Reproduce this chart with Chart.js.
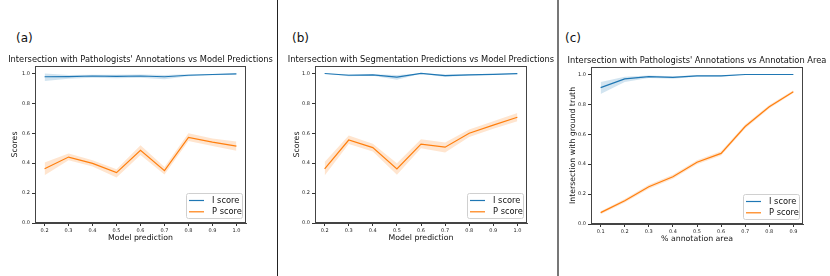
<!DOCTYPE html>
<html>
<head>
<meta charset="utf-8">
<script src="https://cdn.jsdelivr.net/npm/chart.js@4"></script>
<style>
    body { margin: 0; background: #fff; width: 830px; height: 276px; position: relative; overflow: hidden; font-family: "DejaVu Sans", sans-serif; }
    canvas, .tag, .sep { position: absolute; }
    .tag { font-size: 12px; color: #111; }
    .sep { top: 0; height: 276px; }
</style>
</head>
<body>
<div class="tag" style="left:16px;top:31px">(a)</div>
<div class="tag" style="left:292px;top:31px">(b)</div>
<div class="tag" style="left:565px;top:31px">(c)</div>
<div class="sep" style="left:277px;width:1px;background:#222"></div>
<div class="sep" style="left:557px;width:2px;background:#777"></div>
<canvas id="chartA" style="left:0px;top:53px" width="276" height="191"></canvas>
<canvas id="chartB" style="left:280px;top:53px" width="278" height="191"></canvas>
<canvas id="chartC" style="left:556px;top:54px" width="274" height="191"></canvas>
<script>
// x values
const modelPred = [0.2, 0.3, 0.4, 0.5, 0.6, 0.7, 0.8, 0.9, 1.0];
const annotArea = [0.1, 0.2, 0.3, 0.4, 0.5, 0.6, 0.7, 0.8, 0.9];
const yTicks = [0, 0.2, 0.4, 0.6, 0.8, 1.0];

// (a) pathologists' annotations vs model predictions
const aI   = [0.978, 0.979, 0.983, 0.981, 0.983, 0.978, 0.988, 0.993, 0.997];
const aILo = [0.950, 0.965, 0.972, 0.968, 0.972, 0.962, 0.982, 0.988, 0.993];
const aIHi = [1.000, 0.990, 0.992, 0.992, 0.993, 0.990, 0.994, 0.997, 1.000];
const aP   = [0.363, 0.441, 0.399, 0.337, 0.486, 0.350, 0.573, 0.541, 0.514];
const aPLo = [0.320, 0.420, 0.378, 0.305, 0.455, 0.325, 0.548, 0.515, 0.484];
const aPHi = [0.405, 0.465, 0.420, 0.360, 0.520, 0.375, 0.600, 0.565, 0.545];

// (b) segmentation predictions vs model predictions
const bI   = [1.000, 0.988, 0.990, 0.975, 1.000, 0.985, 0.990, 0.994, 0.999];
const bILo = [0.998, 0.982, 0.985, 0.958, 0.998, 0.976, 0.986, 0.991, 0.998];
const bIHi = [1.000, 0.994, 0.995, 0.990, 1.000, 0.993, 0.994, 0.997, 1.000];
const bP   = [0.362, 0.555, 0.504, 0.362, 0.527, 0.507, 0.600, 0.655, 0.707];
const bPLo = [0.318, 0.528, 0.478, 0.322, 0.500, 0.472, 0.575, 0.630, 0.680];
const bPHi = [0.408, 0.585, 0.530, 0.400, 0.560, 0.538, 0.625, 0.680, 0.735];

// (c) pathologists' annotations vs annotation area
const cI   = [0.912, 0.970, 0.985, 0.980, 0.990, 0.990, 1.000, 1.000, 1.000];
const cILo = [0.870, 0.950, 0.976, 0.972, 0.985, 0.984, 1.000, 1.000, 1.000];
const cIHi = [0.950, 0.985, 0.993, 0.988, 0.995, 0.995, 1.000, 1.000, 1.000];
const cP   = [0.076, 0.156, 0.249, 0.316, 0.413, 0.472, 0.652, 0.784, 0.885];
const cPLo = [0.066, 0.144, 0.236, 0.303, 0.400, 0.458, 0.638, 0.772, 0.876];
const cPHi = [0.086, 0.168, 0.262, 0.329, 0.426, 0.486, 0.666, 0.796, 0.894];

const BLUE = "#1f77b4";
const ORANGE = "#ff7f0e";
const FONT = "DejaVu Sans";

Chart.defaults.font.family = FONT;
Chart.defaults.color = "#222";

const pts = (xs, ys) => xs.map((x, i) => ({ x: x, y: ys[i] }));

// box round the plot area + title centred over it
const framePlugin = {
    id: "frame",
    afterDraw(chart) {
        const a = chart.chartArea, ctx = chart.ctx;
        ctx.save();
        ctx.strokeStyle = "#444";
        ctx.lineWidth = 1;
        ctx.strokeRect(a.left + 0.5, a.top + 0.5, a.right - a.left - 1, a.bottom - a.top - 1);
        ctx.fillStyle = "#111";
        ctx.font = "8.3px " + FONT;
        ctx.textAlign = "center";
        ctx.textBaseline = "middle";
        ctx.fillText(chart.options.plugins.frame.title, (a.left + a.right) / 2, a.top - 6.5);
        ctx.restore();
    }
};

// matplotlib-like legend, lower right
const legendPlugin = {
    id: "boxLegend",
    afterDraw(chart) {
        const a = chart.chartArea, ctx = chart.ctx;
        const items = chart.data.datasets.filter(d => !d.band);
        const w = 56, h = 25;
        const x = a.right - 4 - w, y = a.bottom - 5 - h;
        ctx.save();
        ctx.fillStyle = "rgba(255,255,255,0.85)";
        ctx.strokeStyle = "#d0d0d0";
        ctx.lineWidth = 1;
        ctx.beginPath();
        ctx.roundRect(x + 0.5, y + 0.5, w, h, 2);
        ctx.fill();
        ctx.stroke();
        ctx.font = "8.3px " + FONT;
        ctx.textBaseline = "middle";
        items.forEach((d, i) => {
            const ry = y + 7.5 + i * 11.3;
            ctx.strokeStyle = d.borderColor;
            ctx.lineWidth = 1.2;
            ctx.beginPath();
            ctx.moveTo(x + 3, ry);
            ctx.lineTo(x + 18, ry);
            ctx.stroke();
            ctx.fillStyle = "#111";
            ctx.fillText(d.label, x + 26, ry);
        });
        ctx.restore();
    }
};

function makePanel(id, p) {
    const band = (lo, hi, color) => [
        { band: true, data: pts(p.xs, lo), borderColor: "transparent", pointRadius: 0, fill: false },
        { band: true, data: pts(p.xs, hi), borderColor: "transparent", pointRadius: 0, fill: "-1", backgroundColor: color }
    ];
    new Chart(document.getElementById(id), {
        type: "line",
        data: {
            datasets: [
                { label: "I score", data: pts(p.xs, p.i), borderColor: BLUE, borderWidth: 1.2, pointRadius: 0, fill: false },
                { label: "P score", data: pts(p.xs, p.p), borderColor: ORANGE, borderWidth: 1.2, pointRadius: 0, fill: false },
                ...band(p.iLo, p.iHi, "rgba(31,119,180,0.2)"),
                ...band(p.pLo, p.pHi, "rgba(255,127,14,0.2)")
            ]
        },
        options: {
            responsive: false,
            animation: false,
            devicePixelRatio: 1,
            layout: { padding: { left: 0, right: p.padRight, top: 13, bottom: 0 } },
            plugins: {
                legend: { display: false },
                tooltip: { enabled: false },
                frame: { title: p.title }
            },
            scales: {
                x: {
                    type: "linear", min: p.xMin, max: p.xMax,
                    afterBuildTicks: s => { s.ticks = p.xs.map(v => ({ value: v })); },
                    afterFit: s => { s.height = 21; },
                    grid: { drawOnChartArea: false, drawTicks: true, tickLength: 3, color: "#333" },
                    border: { color: "#444" },
                    ticks: { padding: 2, font: { size: 5 }, color: "#222", maxRotation: 0, autoSkip: false, callback: v => v.toFixed(1) },
                    title: { display: true, text: p.xTitle, color: "#111", font: { size: 7.8 }, padding: { top: 0, bottom: 1 } }
                },
                y: {
                    min: 0, max: 1.05,
                    afterBuildTicks: s => { s.ticks = yTicks.map(v => ({ value: v })); },
                    afterFit: s => { s.width = 35; },
                    grid: { drawOnChartArea: false, drawTicks: true, tickLength: 3, color: "#333" },
                    border: { color: "#444" },
                    ticks: { padding: 2, font: { size: 5 }, color: "#222", callback: v => v.toFixed(1) },
                    title: { display: true, text: p.yTitle, color: "#111", font: { size: 7.8 }, padding: { top: p.yTitlePad, bottom: 0 } }
                }
            }
        },
        plugins: [framePlugin, legendPlugin]
    });
}

makePanel("chartA", {
    title: "Intersection with Pathologists' Annotations vs Model Predictions",
    xs: modelPred, xMin: 0.16, xMax: 1.04, i: aI, iLo: aILo, iHi: aIHi, p: aP, pLo: aPLo, pHi: aPHi,
    xTitle: "Model prediction", yTitle: "Scores", yTitlePad: 10, padRight: 30
});
makePanel("chartB", {
    title: "Intersection with Segmentation Predictions vs Model Predictions",
    xs: modelPred, xMin: 0.16, xMax: 1.04, i: bI, iLo: bILo, iHi: bIHi, p: bP, pLo: bPLo, pHi: bPHi,
    xTitle: "Model prediction", yTitle: "Scores", yTitlePad: 12.5, padRight: 31
});
makePanel("chartC", {
    title: "Intersection with Pathologists' Annotations vs Annotation Area",
    xs: annotArea, xMin: 0.06, xMax: 0.94, i: cI, iLo: cILo, iHi: cIHi, p: cP, pLo: cPLo, pHi: cPHi,
    xTitle: "% annotation area", yTitle: "Intersection with ground truth", yTitlePad: 12.5, padRight: 27
});
</script>
</body>
</html>
